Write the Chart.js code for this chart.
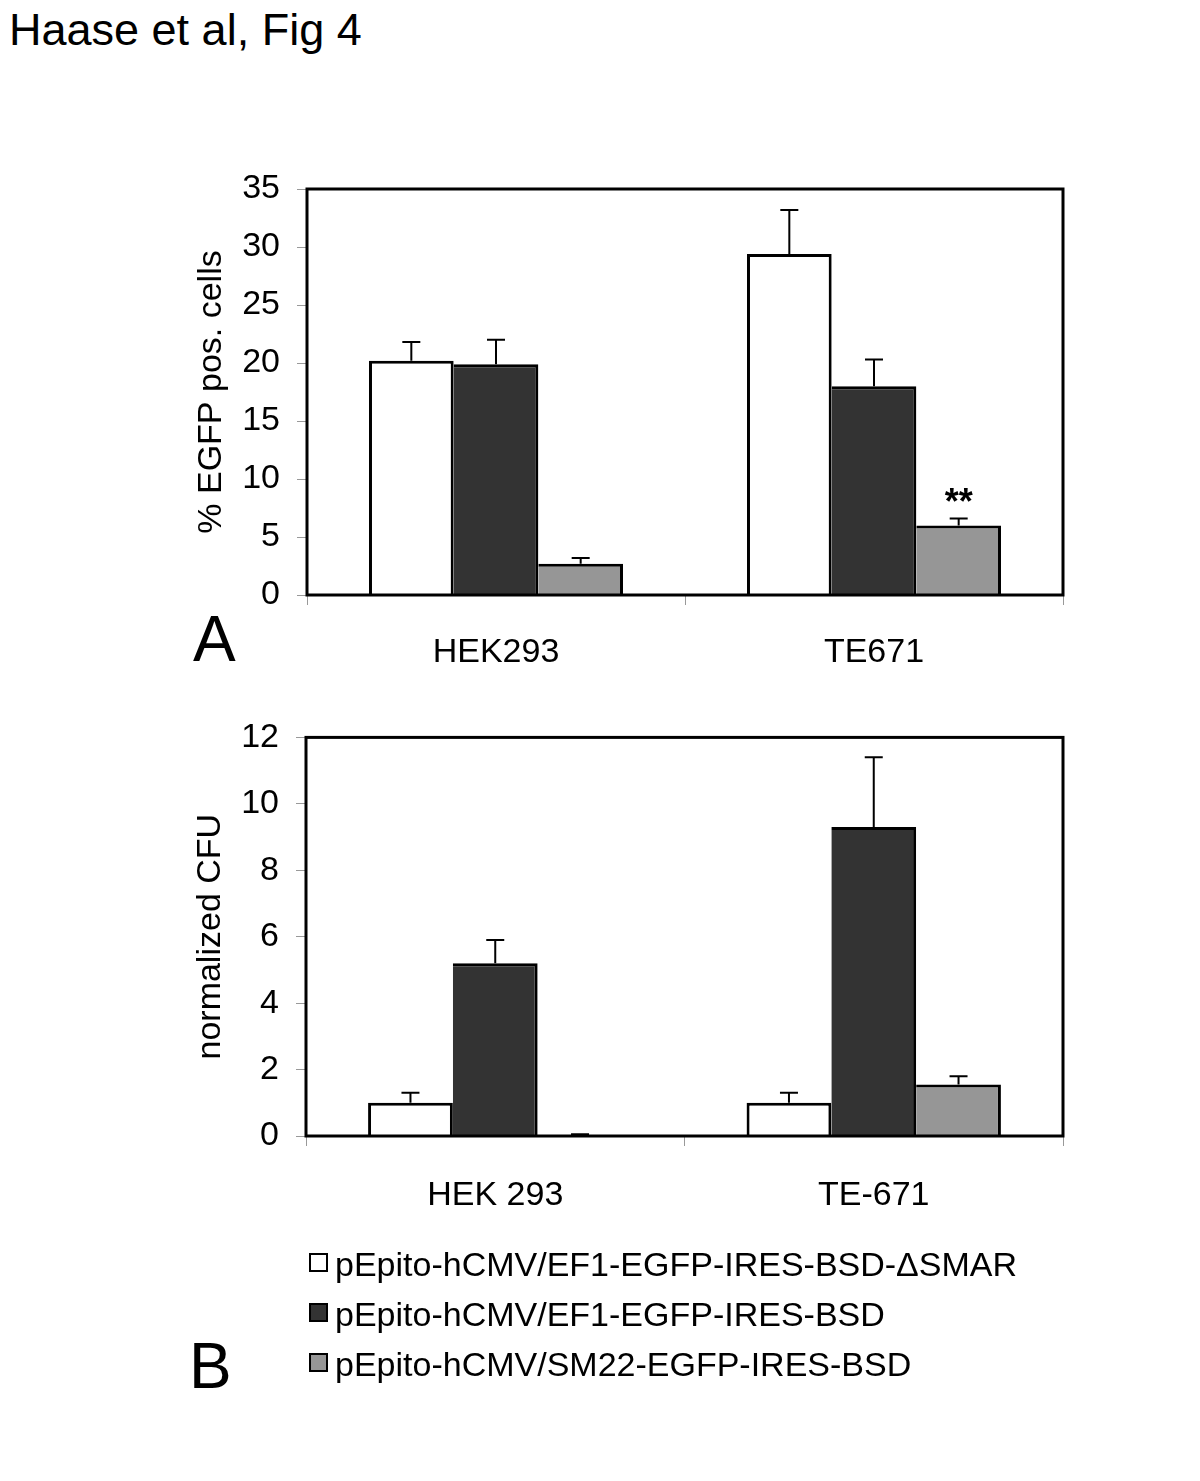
<!DOCTYPE html>
<html>
<head>
<meta charset="utf-8">
<script src="https://cdn.jsdelivr.net/npm/chart.js@4.4.1/dist/chart.umd.min.js"></script>
<style>
  body { margin: 0; background: #fff; width: 1200px; height: 1481px; position: relative; overflow: hidden;
         font-family: "Liberation Sans", Arial, sans-serif; color: #000; }
  .abs { position: absolute; line-height: 1; white-space: nowrap; }
  #title { left: 9px; top: 7px; font-size: 45px; }
  #panelA { left: 193px; top: 607px; font-size: 64px; }
  #panelB { left: 189px; top: 1334px; font-size: 64px; }
  #wrapA { position: absolute; left: 0; top: 0; }
  #wrapB { position: absolute; left: 0; top: 700px; }
  #legend { position: absolute; left: 309px; top: 1239px; font-size: 34px; }
  .row { height: 50px; display: flex; align-items: center; white-space: nowrap; }
  .box { width: 15px; height: 15px; border: 2px solid #000; margin-right: 7px; margin-top: -3px; }
</style>
</head>
<body>
<div id="title" class="abs">Haase et al, Fig 4</div>
<div id="wrapA"><canvas id="chartA" width="1200" height="700"></canvas></div>
<div id="wrapB"><canvas id="chartB" width="1200" height="540"></canvas></div>
<div id="panelA" class="abs">A</div>
<div id="panelB" class="abs">B</div>
<div id="legend"></div>

<script>
// categories
const cellLinesA = ["HEK293", "TE671"];
const cellLinesB = ["HEK 293", "TE-671"];

// series
const seriesNames = [
  "pEpito-hCMV/EF1-EGFP-IRES-BSD-\u0394SMAR",
  "pEpito-hCMV/EF1-EGFP-IRES-BSD",
  "pEpito-hCMV/SM22-EGFP-IRES-BSD"
];
const seriesColors = ["#ffffff", "#333333", "#969696"];

// A: % EGFP pos. cells (mean, upper error)
const egfpDeltaSmar = [20.2, 29.4];
const egfpDeltaSmarErr = [1.6, 3.8];
const egfpEf1 = [19.9, 18.0];
const egfpEf1Err = [2.1, 2.3];
const egfpSm22 = [2.7, 6.0];
const egfpSm22Err = [0.5, 0.6];
const egfpSm22Marks = ["", "**"];

// B: normalized CFU (mean, upper error)
const cfuDeltaSmar = [1.0, 1.0];
const cfuDeltaSmarErr = [0.3, 0.3];
const cfuEf1 = [5.2, 9.3];
const cfuEf1Err = [0.7, 2.1];
const cfuSm22 = [0.02, 1.55];
const cfuSm22Err = [0.03, 0.25];

// y axis ticks
const yMaxA = 35, yStepA = 5;
const yMaxB = 12, yStepB = 2;

const FONT = '"Liberation Sans", Arial, sans-serif';
Chart.defaults.font.family = FONT;
Chart.defaults.color = "#000";

// border widths so neighbouring bars share one line
const borders = [
  { top: 3, left: 3, right: 3, bottom: 0 },
  { top: 3, left: 0, right: 3, bottom: 0 },
  { top: 3, left: 0, right: 3, bottom: 0 }
];

function makeSets(values, errors, marks) {
  return values.map((v, i) => ({
    label: seriesNames[i],
    data: v,
    errors: errors[i],
    marks: marks[i],
    backgroundColor: seriesColors[i],
    borderColor: "#000",
    borderWidth: borders[i],
    borderSkipped: false,
    categoryPercentage: 0.672,
    barPercentage: 1.0
  }));
}

// error bars, stars and the frame round the plot
const errorBars = {
  id: "errorBars",
  afterDatasetsDraw(chart) {
    const ctx = chart.ctx;
    const y = chart.scales.y;
    ctx.save();
    ctx.strokeStyle = "#000";
    ctx.fillStyle = "#000";
    ctx.lineWidth = 2;
    chart.data.datasets.forEach((ds, i) => {
      const meta = chart.getDatasetMeta(i);
      meta.data.forEach((bar, j) => {
        const err = ds.errors[j];
        const top = y.getPixelForValue(ds.data[j] + err);
        if (err) {
          ctx.beginPath();
          ctx.moveTo(bar.x, bar.y);
          ctx.lineTo(bar.x, top);
          ctx.moveTo(bar.x - 9, top);
          ctx.lineTo(bar.x + 9, top);
          ctx.stroke();
        }
        if (ds.marks && ds.marks[j]) {
          ctx.font = "bold 36px " + FONT;
          ctx.textAlign = "center";
          ctx.textBaseline = "alphabetic";
          ctx.fillText(ds.marks[j], bar.x, top - 4);
        }
      });
    });
    const a = chart.chartArea;
    ctx.lineWidth = 3;
    ctx.strokeRect(a.left, a.top, a.right - a.left, a.bottom - a.top);
    ctx.restore();
  }
};

function makeChart(id, labels, datasets, yMax, yStep, yTitle, pad, xHeight, xPad) {
  return new Chart(document.getElementById(id), {
    type: "bar",
    data: { labels: labels, datasets: datasets },
    plugins: [errorBars],
    options: {
      responsive: false,
      animation: false,
      devicePixelRatio: 1,
      layout: { padding: pad },
      plugins: { legend: { display: false }, tooltip: { enabled: false } },
      scales: {
        x: {
          grid: { offset: true, drawOnChartArea: false, drawTicks: true, tickLength: 10, color: "#999", lineWidth: 1 },
          border: { display: false },
          ticks: { font: { size: 34 }, padding: xPad, maxRotation: 0 },
          afterFit: s => { s.height = xHeight; }
        },
        y: {
          min: 0,
          max: yMax,
          grid: { drawOnChartArea: false, drawTicks: true, tickLength: 10, color: "#999", lineWidth: 1 },
          border: { display: false },
          ticks: { stepSize: yStep, font: { size: 34 }, padding: 17 },
          title: { display: true, text: yTitle, font: { size: 34 }, padding: { top: 4, bottom: 4 } },
          afterFit: s => { s.width = 120; }
        }
      }
    }
  });
}

makeChart("chartA", cellLinesA,
  makeSets([egfpDeltaSmar, egfpEf1, egfpSm22],
           [egfpDeltaSmarErr, egfpEf1Err, egfpSm22Err],
           [null, null, egfpSm22Marks]),
  yMaxA, yStepA, "% EGFP pos. cells",
  { left: 187, right: 137, top: 189, bottom: 0 }, 105, 27);

makeChart("chartB", cellLinesB,
  makeSets([cfuDeltaSmar, cfuEf1, cfuSm22],
           [cfuDeltaSmarErr, cfuEf1Err, cfuSm22Err],
           [null, null, null]),
  yMaxB, yStepB, "normalized CFU",
  { left: 186, right: 137, top: 27, bottom: 0 }, 104, 29);

// legend
const legend = document.getElementById("legend");
seriesNames.forEach((name, i) => {
  const row = document.createElement("div");
  row.className = "row";
  const box = document.createElement("span");
  box.className = "box";
  box.style.background = seriesColors[i];
  const txt = document.createElement("span");
  txt.textContent = name;
  row.appendChild(box);
  row.appendChild(txt);
  legend.appendChild(row);
});
</script>
</body>
</html>
